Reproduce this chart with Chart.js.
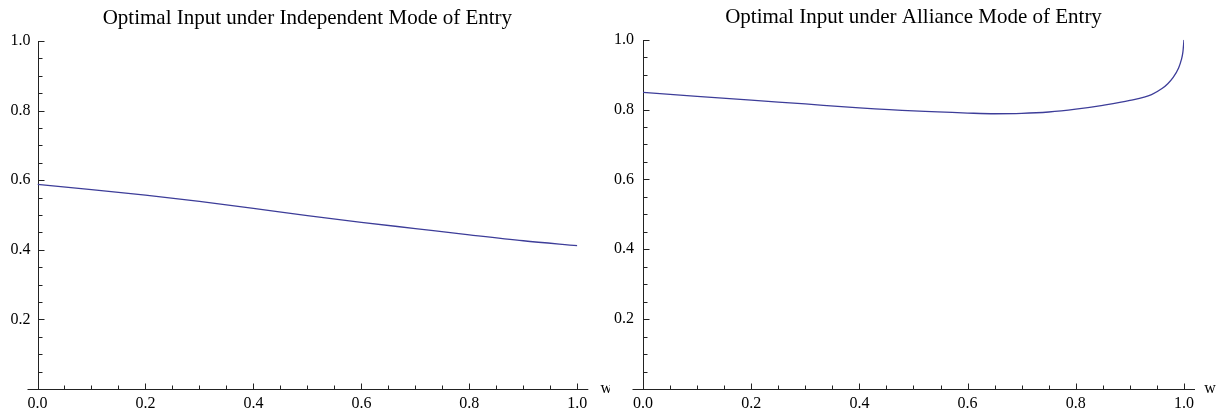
<!DOCTYPE html>
<html>
<head>
<meta charset="utf-8">
<title>Optimal Input</title>
<script src="https://cdn.jsdelivr.net/npm/chart.js@4/dist/chart.umd.min.js"></script>
<style>
  body { margin: 0; background: #fff; }
  canvas { position: absolute; top: 0; }
</style>
</head>
<body>
<canvas id="independentChart" width="610" height="417" style="left:0"></canvas>
<canvas id="allianceChart" width="611" height="417" style="left:610px"></canvas>
<script>
// w on the horizontal axis, optimal input on the vertical axis
const independentW = [0, 0.1, 0.2, 0.3, 0.4, 0.5, 0.6, 0.7, 0.8, 0.9, 1.0];
const independentInput = [0.588, 0.573, 0.557, 0.539, 0.519, 0.498, 0.479, 0.461, 0.443, 0.426, 0.412];

const allianceW = [0, 0.1, 0.2, 0.3, 0.4, 0.5, 0.6, 0.65, 0.7, 0.75, 0.8, 0.85, 0.9, 0.94, 0.96, 0.97, 0.98, 0.99, 0.995, 0.998, 1.0];
const allianceInput = [0.849, 0.838, 0.827, 0.816, 0.805, 0.796, 0.790, 0.788, 0.789, 0.793, 0.801, 0.812, 0.826, 0.843, 0.861, 0.874, 0.892, 0.919, 0.942, 0.965, 1.0];

const xTicks = [0, 0.2, 0.4, 0.6, 0.8, 1.0];
const xTickLabels = ["0.0", "0.2", "0.4", "0.6", "0.8", "1.0"];
const yTicks = [0.2, 0.4, 0.6, 0.8, 1.0];
const yTickLabels = ["0.2", "0.4", "0.6", "0.8", "1.0"];
const minorStep = 0.05;

const serif = "'Liberation Serif', 'DejaVu Serif', serif";
const curveColor = "#3d3d99";

// Mathematica-style axes: lines crossing at the origin, ticks pointing inwards
const mathAxes = {
  id: "mathAxes",
  beforeDatasetsDraw(chart, args, opts) {
    const ctx = chart.ctx;
    const xs = chart.scales.x;
    const ys = chart.scales.y;
    const ox = Math.round(xs.getPixelForValue(0)) + 0.5;
    const oy = Math.round(ys.getPixelForValue(0)) + 0.5;
    const xEnd = xs.getPixelForValue(1);
    const yTop = ys.getPixelForValue(1);

    ctx.save();
    ctx.strokeStyle = "#222";
    ctx.lineWidth = 1;
    ctx.beginPath();
    ctx.moveTo(ox - 11, oy);
    ctx.lineTo(xEnd + 11, oy);
    ctx.moveTo(ox, oy);
    ctx.lineTo(ox, Math.round(yTop));

    for (let v = minorStep; v <= 1.0001; v += minorStep) {
      const major = Math.abs(v * 5 - Math.round(v * 5)) < 1e-6;
      const len = major ? 6 : 4;
      const px = Math.round(xs.getPixelForValue(v)) + 0.5;
      ctx.moveTo(px, oy);
      ctx.lineTo(px, oy - len);
      const py = Math.round(ys.getPixelForValue(v)) + 0.5;
      ctx.moveTo(ox, py);
      ctx.lineTo(ox + len, py);
    }
    ctx.stroke();

    // axis name at the end of the horizontal axis
    ctx.fillStyle = "#000";
    ctx.font = "16px " + serif;
    ctx.textAlign = "center";
    ctx.textBaseline = "middle";
    ctx.fillText("w", xEnd + opts.labelOffset, oy - 1);
    ctx.restore();
  }
};

function makeChart(id, titleText, wValues, inputValues, box) {
  return new Chart(document.getElementById(id), {
    type: "line",
    data: {
      datasets: [{
        data: wValues.map((w, i) => ({ x: w, y: inputValues[i] })),
        borderColor: curveColor,
        borderWidth: 1.3,
        pointRadius: 0,
        fill: false,
        cubicInterpolationMode: "monotone"
      }]
    },
    options: {
      responsive: false,
      animation: false,
      devicePixelRatio: 1,
      layout: { padding: { left: 0, right: box.right, top: 0, bottom: 0 } },
      plugins: {
        legend: { display: false },
        tooltip: { enabled: false },
        title: {
          display: true,
          fullSize: false,
          text: titleText,
          color: "#000",
          font: { family: serif, size: 21, weight: "normal", lineHeight: 1.2 },
          padding: { top: box.titleTop, bottom: box.titleBottom }
        },
        mathAxes: { labelOffset: box.wOffset }
      },
      scales: {
        x: {
          type: "linear",
          min: 0,
          max: 1,
          afterBuildTicks: s => { s.ticks = xTicks.map(v => ({ value: v })); },
          afterFit: s => { s.height = 28; },
          grid: { display: false, drawTicks: false },
          border: { display: false },
          ticks: {
            callback: (v, i) => xTickLabels[i],
            padding: 5,
            maxRotation: 0,
            color: "#000",
            font: { family: serif, size: 16 }
          }
        },
        y: {
          min: 0,
          max: 1,
          afterBuildTicks: s => { s.ticks = yTicks.map(v => ({ value: v })); },
          afterFit: s => { s.width = box.left; },
          grid: { display: false, drawTicks: false },
          border: { display: false },
          ticks: {
            callback: (v, i) => yTickLabels[i],
            padding: box.yPad,
            color: "#000",
            font: { family: serif, size: 16 }
          }
        }
      }
    },
    plugins: [mathAxes]
  });
}

makeChart("independentChart", "Optimal Input under Independent Mode of Entry",
  independentW, independentInput,
  { left: 37.5, right: 32.7, titleTop: 6, titleBottom: 9.8, yPad: 7, wOffset: 29 });

makeChart("allianceChart", "Optimal Input under Alliance Mode of Entry",
  allianceW, allianceInput,
  { left: 33, right: 37, titleTop: 5, titleBottom: 9.5, yPad: 9, wOffset: 26 });
</script>
</body>
</html>
